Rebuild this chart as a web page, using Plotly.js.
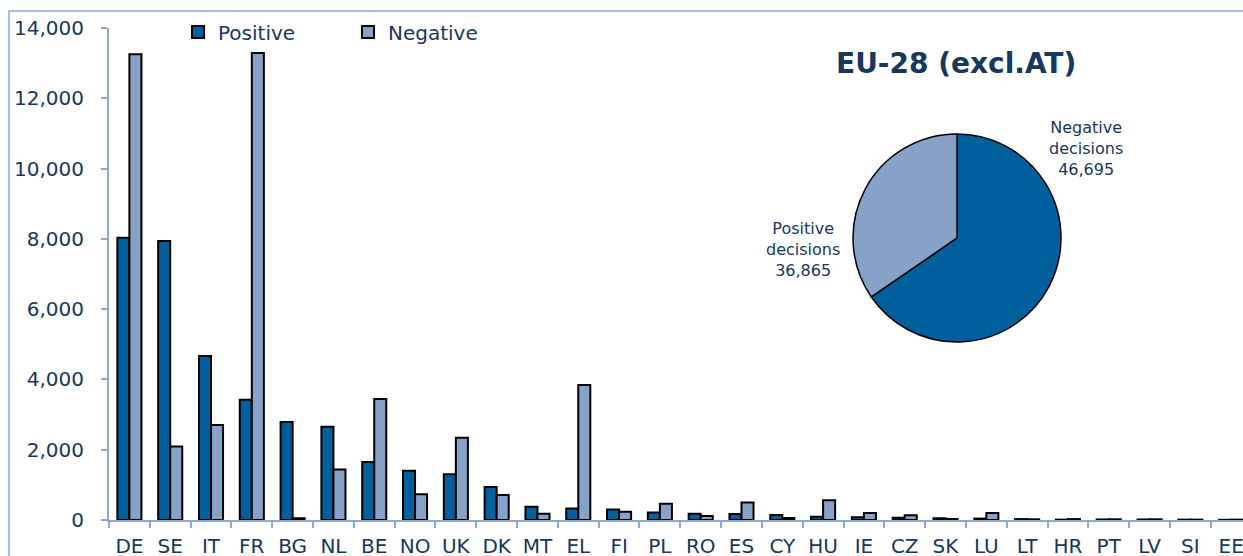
<!DOCTYPE html>
<html>
<head>
<meta charset="utf-8">
<script src="https://cdn.plot.ly/plotly-3.0.1.min.js"></script>
<style>
html,body{margin:0;padding:0;background:#fff;}
#chart{width:1243px;height:556px;}
</style>
</head>
<body>
<div id="chart"></div>
<script>
// ---- data ----
const countries = ["DE","SE","IT","FR","BG","NL","BE","NO","UK","DK","MT","EL","FI","PL","RO","ES","CY","HU","IE","CZ","SK","LU","LT","HR","PT","LV","SI","EE"];
const positive = [8030,7940,4670,3420,2790,2655,1650,1400,1300,940,380,330,300,210,180,170,140,95,75,65,50,40,25,10,15,15,10,5];
const negative = [13250,2090,2700,13290,50,1440,3440,730,2340,710,180,3840,235,465,115,500,60,560,200,135,30,200,20,25,20,20,10,10];
const seriesNames = ["Positive","Negative"];
// Pie: slice shares as drawn in the picture (%) and the numbers printed beside them
const pieLabels = ["Negative decisions","Positive decisions"];
const pieShares = [65.4, 34.6];
const pieCounts = [46695, 36865];
const pieTitle = "EU-28 (excl.AT)";

// ---- style ----
const darkBlue = "#00609e";
const lightBlue = "#87a2c9";
const textColor = "#17375e";
const axisColor = "#8eaad2";
const FONT = "DejaVu Sans, Verdana, sans-serif";

const fmt = n => n.toLocaleString("en-US");

const traces = [
  {type:"bar", name:seriesNames[0], x:countries, y:positive,
   marker:{color:darkBlue, line:{color:"#000", width:2}}, hoverinfo:"x+y"},
  {type:"bar", name:seriesNames[1], x:countries, y:negative,
   marker:{color:lightBlue, line:{color:"#000", width:2}}, hoverinfo:"x+y"},
  {type:"pie", labels:pieLabels, values:pieShares, sort:false, direction:"clockwise", rotation:0,
   marker:{colors:[darkBlue, lightBlue], line:{color:"#000", width:1.5}},
   textinfo:"none", showlegend:false, hoverinfo:"label",
   domain:{x:[0.6561,0.8395], y:[0.3618,0.7846]}}
];

const W = 1134, H = 492, L = 109, T = 28;
const px = x => (x - L) / W;
const py = y => (T + H - y) / H;

const layout = {
  width:1243, height:556,
  margin:{l:L, r:0, t:T, b:36, pad:0},
  paper_bgcolor:"#fff", plot_bgcolor:"#fff",
  font:{family:FONT, color:textColor, size:20},
  barmode:"group", bargap:0.41, bargroupgap:0,
  showlegend:true,
  legend:{orientation:"h", x:px(178), xanchor:"left", y:py(32), yanchor:"middle",
          font:{family:FONT, size:20, color:textColor}, bgcolor:"rgba(0,0,0,0)",
          entrywidthmode:"pixels", entrywidth:125, traceorder:"normal"},
  xaxis:{type:"category", range:[-0.5, 27.29], showline:true, linecolor:axisColor, linewidth:2,
         ticks:"outside", tickson:"boundaries", ticklen:6, tickcolor:axisColor, tickwidth:2,
         tickfont:{family:FONT, size:20, color:textColor}, ticklabelstandoff:7,
         showgrid:false, zeroline:false, fixedrange:true},
  yaxis:{range:[0,14000], dtick:2000, tickformat:",d", showline:true, linecolor:axisColor, linewidth:2,
         ticks:"outside", ticklen:6, tickcolor:axisColor, tickwidth:2,
         tickfont:{family:FONT, size:20, color:textColor}, ticklabelstandoff:13,
         showgrid:false, zeroline:false, fixedrange:true},
  shapes:[
    {type:"rect", xref:"paper", yref:"paper", x0:px(9), x1:px(1300), y0:py(600), y1:py(11),
     line:{color:axisColor, width:1.5}, fillcolor:"rgba(0,0,0,0)", layer:"below"}
  ],
  annotations:[
    {xref:"paper", yref:"paper", x:px(956), y:py(63), text:"<b>"+pieTitle+"</b>", showarrow:false,
     font:{family:FONT, size:28, color:textColor}, xanchor:"center", yanchor:"middle"},
    {xref:"paper", yref:"paper", x:px(1086), y:py(148), showarrow:false, align:"center",
     text:"Negative<br>decisions<br>"+fmt(pieCounts[0]),
     font:{family:FONT, size:16, color:textColor}, xanchor:"center", yanchor:"middle"},
    {xref:"paper", yref:"paper", x:px(803), y:py(249), showarrow:false, align:"center",
     text:"Positive<br>decisions<br>"+fmt(pieCounts[1]),
     font:{family:FONT, size:16, color:textColor}, xanchor:"center", yanchor:"middle"}
  ]
};

Plotly.newPlot("chart", traces, layout, {displayModeBar:false, staticPlot:true});
</script>
</body>
</html>
